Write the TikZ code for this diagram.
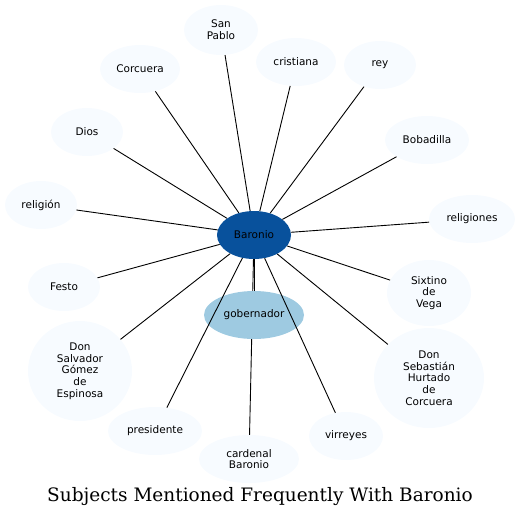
\documentclass[tikz,border=0pt]{standalone}
\usepackage{fontspec}
\setmainfont{DejaVu Serif}
\newfontfamily\nodefont{DejaVu Sans}
\usetikzlibrary{shapes.geometric,backgrounds}
\definecolor{hubblue}{HTML}{08519C}
\definecolor{midblue}{HTML}{9ECAE1}
\definecolor{paleblue}{HTML}{F7FBFF}

\begin{document}
\begin{tikzpicture}[x=1pt,y=-1pt,
ent/.style={ellipse,fill=paleblue,inner sep=0pt,align=center,font=\nodefont\fontsize{10.5}{11.7}\selectfont},
hub/.style={ent,fill=hubblue},
sub/.style={ent,fill=midblue},
sz/.style 2 args={minimum width=#1pt,minimum height=#2pt},
link/.style={line width=0.9pt}]
\useasboundingbox (0,0) rectangle (521,520);
\node[hub,sz={74}{48}] (baronio) at (254,235) {Baronio};
\node[sub,sz={100}{48}] (gobernador) at (254,315) {gobernador};
\node[ent,sz={74}{50}] (sanpablo) at (221,30) {San\\Pablo};
\node[ent,sz={80}{48}] (corcuera) at (140,69) {Corcuera};
\node[ent,sz={80}{48}] (cristiana) at (296,62) {cristiana};
\node[ent,sz={72}{48}] (rey) at (380,65) {rey};
\node[ent,sz={84}{48}] (bobadilla) at (427,140) {Bobadilla};
\node[ent,sz={72}{48}] (dios) at (87,132) {Dios};
\node[ent,sz={72}{48}] (religion) at (41,205) {religión};
\node[ent,sz={86}{48}] (religiones) at (472,219) {religiones};
\node[ent,sz={72}{48}] (festo) at (64,287) {Festo};
\node[ent,sz={84}{66}] (sixtino) at (429,293) {Sixtino\\de\\Vega};
\node[ent,sz={104}{100}] (salvador) at (80,371) {Don\\Salvador\\Gómez\\de\\Espinosa};
\node[ent,sz={110}{100}] (sebastian) at (429,378) {Don\\Sebastián\\Hurtado\\de\\Corcuera};
\node[ent,sz={94}{48}] (presidente) at (155,431) {presidente};
\node[ent,sz={100}{48}] (cardenal) at (249,459) {cardenal\\Baronio};
\node[ent,sz={74}{48}] (virreyes) at (346,436) {virreyes};
\node (title) at (260,497) {\fontsize{18.5}{20}\selectfont Subjects Mentioned Frequently With Baronio};
\foreach \n in {gobernador,sanpablo,corcuera,cristiana,rey,bobadilla,dios,religion,religiones,festo,sixtino,salvador,sebastian,presidente,virreyes}
  \draw[link] (baronio)--(\n);
\begin{scope}[on background layer]
\draw[link] (baronio)--(cardenal);
\end{scope}
\end{tikzpicture}
\end{document}
